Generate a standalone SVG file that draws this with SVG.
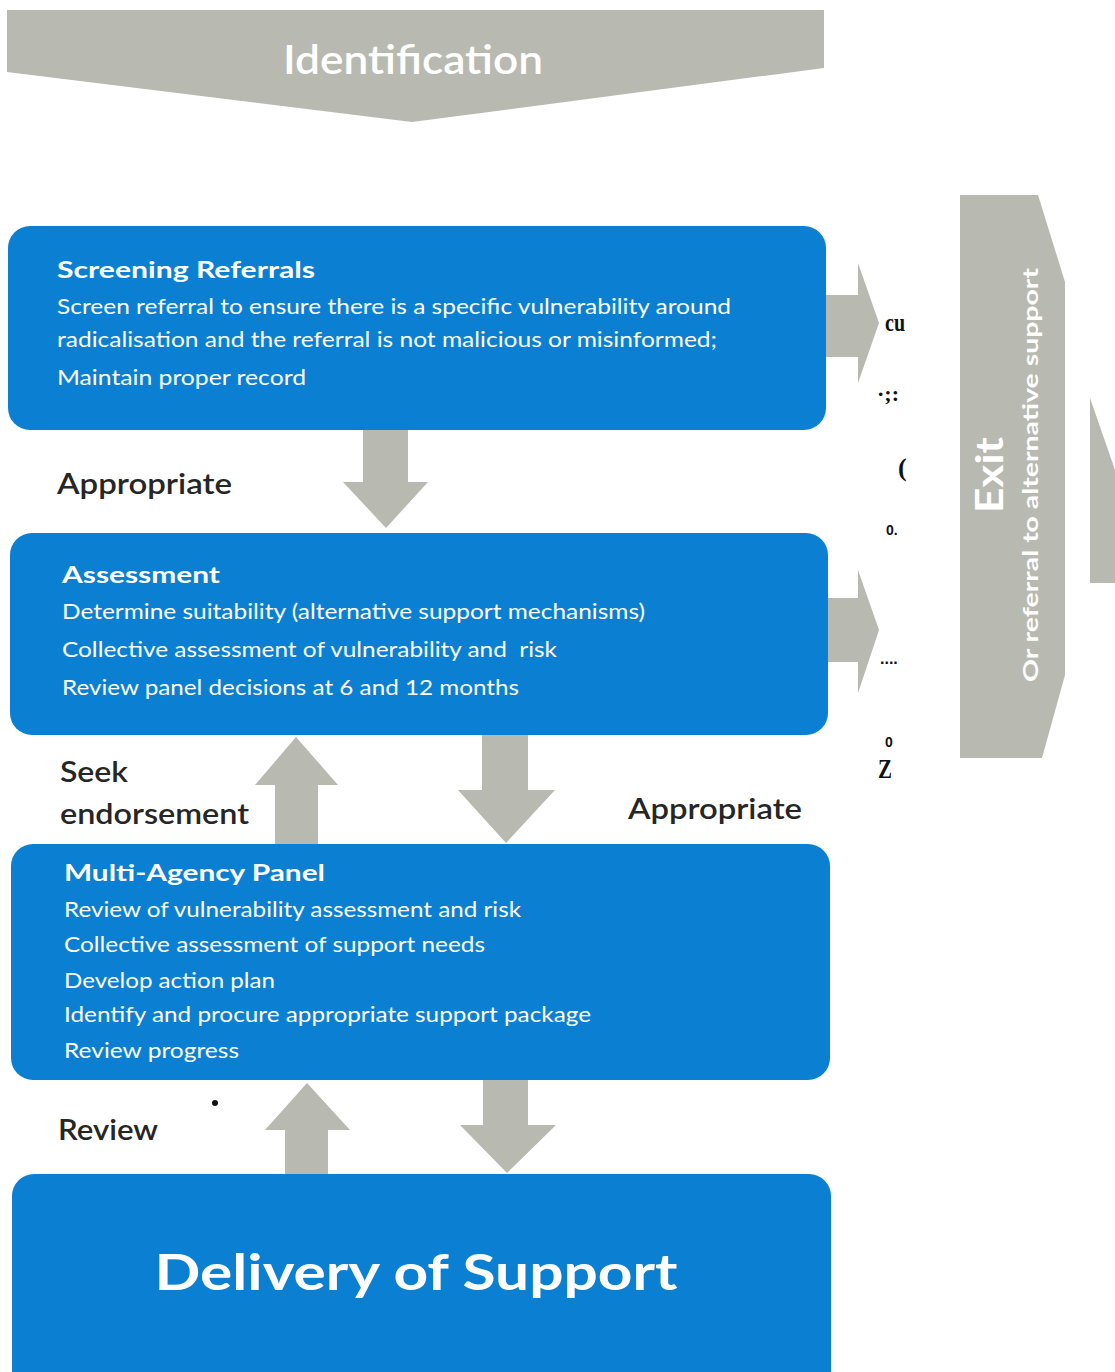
<svg xmlns="http://www.w3.org/2000/svg" width="1115" height="1372" viewBox="0 0 1115 1372">
<style>
.box{fill:#0b80d2;}
.arr{fill:#b8bab1;}
.t{font-family:Lato,"Open Sans","Liberation Sans",sans-serif;fill:#ffffff;}
.h{font-weight:bold;font-size:23px;}
.b{font-size:22px;}
.lab{font-family:Lato,"Open Sans","Liberation Sans",sans-serif;fill:#262626;font-size:28px;font-weight:600;}
.junk{font-family:"Liberation Serif",serif;fill:#111;font-weight:bold;}
</style>
<rect width="1115" height="1372" fill="#ffffff"/>
<g id="identification">
<polygon class="arr" points="7,10 824,10 824,68 412,122 7,72"/>
<text class="t" x="413" y="74" font-size="40" font-weight="600" text-anchor="middle" textLength="260" lengthAdjust="spacingAndGlyphs">Identification</text>
</g>
<g id="connectors">
<polygon class="arr" points="363,430 408,430 408,482 428,482 386,528 343,482 363,482"/>
<polygon class="arr" points="296,737 338,785 318,785 318,845 275,845 275,785 255,785"/>
<polygon class="arr" points="482,735 528,735 528,790 555,790 506,843 458,790 482,790"/>
<polygon class="arr" points="307,1083 350,1130 328,1130 328,1175 285,1175 285,1130 265,1130"/>
<polygon class="arr" points="483,1080 528,1080 528,1125 556,1125 507,1173 460,1125 483,1125"/>
<polygon class="arr" points="826,295 858,295 858,263 879,323 858,383 858,357 826,357"/>
<polygon class="arr" points="828,598 858,598 858,570 879,630 858,693 858,662 828,662"/>
<polygon class="arr" points="1090,398 1115,470 1115,583 1090,583"/>
</g>
<g id="screening">
<rect class="box" x="8" y="226" width="818" height="204" rx="22"/>
<text class="t h" x="57" y="278" textLength="258" lengthAdjust="spacingAndGlyphs">Screening Referrals</text>
<text class="t b" x="57" y="314" textLength="674" lengthAdjust="spacingAndGlyphs">Screen referral to ensure there is a specific vulnerability around</text>
<text class="t b" x="57" y="347" textLength="660" lengthAdjust="spacingAndGlyphs">radicalisation and the referral is not malicious or misinformed;</text>
<text class="t b" x="57" y="385" textLength="249" lengthAdjust="spacingAndGlyphs">Maintain proper record</text>
</g>
<g id="label-appropriate-1">
<text class="lab" x="57" y="494" textLength="175" lengthAdjust="spacingAndGlyphs">Appropriate</text>
</g>
<g id="assessment">
<rect class="box" x="10" y="533" width="818" height="202" rx="22"/>
<text class="t h" x="62" y="583" textLength="158" lengthAdjust="spacingAndGlyphs">Assessment</text>
<text class="t b" x="62" y="619" textLength="583" lengthAdjust="spacingAndGlyphs">Determine suitability (alternative support mechanisms)</text>
<text class="t b" x="62" y="657" textLength="495" lengthAdjust="spacingAndGlyphs" xml:space="preserve" style="white-space:pre">Collective assessment of vulnerability and  risk</text>
<text class="t b" x="62" y="695" textLength="457" lengthAdjust="spacingAndGlyphs">Review panel decisions at 6 and 12 months</text>
</g>
<g id="label-seek">
<text class="lab" x="60" y="782" textLength="68" lengthAdjust="spacingAndGlyphs">Seek</text>
<text class="lab" x="60" y="824" textLength="189" lengthAdjust="spacingAndGlyphs">endorsement</text>
</g>
<g id="label-appropriate-2">
<text class="lab" x="628" y="819" textLength="174" lengthAdjust="spacingAndGlyphs">Appropriate</text>
</g>
<g id="panel">
<rect class="box" x="11" y="844" width="819" height="236" rx="22"/>
<text class="t h" x="64" y="881" textLength="261" lengthAdjust="spacingAndGlyphs">Multi-Agency Panel</text>
<text class="t b" x="64" y="917" textLength="457" lengthAdjust="spacingAndGlyphs">Review of vulnerability assessment and risk</text>
<text class="t b" x="64" y="952" textLength="421" lengthAdjust="spacingAndGlyphs">Collective assessment of support needs</text>
<text class="t b" x="64" y="988" textLength="211" lengthAdjust="spacingAndGlyphs">Develop action plan</text>
<text class="t b" x="64" y="1022" textLength="527" lengthAdjust="spacingAndGlyphs">Identify and procure appropriate support package</text>
<text class="t b" x="64" y="1058" textLength="175" lengthAdjust="spacingAndGlyphs">Review progress</text>
</g>
<g id="label-review">
<text class="lab" x="58" y="1140" textLength="100" lengthAdjust="spacingAndGlyphs">Review</text>
<circle cx="215" cy="1103" r="3" fill="#111"/>
</g>
<g id="delivery">
<rect class="box" x="12" y="1174" width="819" height="220" rx="22"/>
<text class="t" x="416" y="1290" font-size="50" font-weight="bold" text-anchor="middle" textLength="523" lengthAdjust="spacingAndGlyphs">Delivery of Support</text>
</g>
<g id="exit">
<polygon class="arr" points="960,195 1038,195 1065,282 1065,675 1042,758 960,758"/>
<text class="t" transform="translate(1003,475) rotate(-90)" font-size="38" font-weight="bold" text-anchor="middle" textLength="76" lengthAdjust="spacingAndGlyphs">Exit</text>
<text class="t" transform="translate(1038,475) rotate(-90)" font-size="21" font-weight="bold" text-anchor="middle" textLength="414" lengthAdjust="spacingAndGlyphs">Or referral to alternative support</text>
</g>
<g id="stray-marks">
<text class="junk" x="885" y="331" font-size="26" textLength="20" lengthAdjust="spacingAndGlyphs">cu</text>
<text class="junk" x="877" y="401" font-size="22">·;:</text>
<text class="junk" x="898" y="476" font-size="26">(</text>
<text x="886" y="535" font-family="'Liberation Sans',sans-serif" font-weight="bold" font-size="14" fill="#111">0.</text>
<text x="880" y="664" font-family="'Liberation Sans',sans-serif" font-weight="bold" font-size="16" fill="#111">....</text>
<text class="junk" x="878" y="778" font-size="28" textLength="14" lengthAdjust="spacingAndGlyphs">Z</text>
<text x="885" y="747" font-family="'Liberation Sans',sans-serif" font-weight="bold" font-size="14" fill="#111">0</text>
</g>
</svg>
